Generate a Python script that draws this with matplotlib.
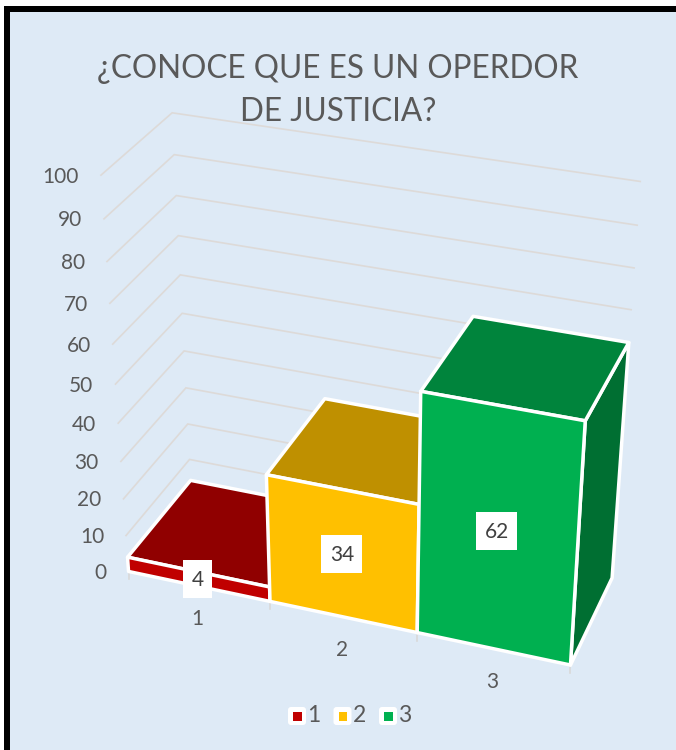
import numpy as np
import matplotlib
matplotlib.use("Agg")
import matplotlib.pyplot as plt
from matplotlib.patches import Polygon, Rectangle, FancyBboxPatch

plt.rcParams["font.family"] = ["Lato", "DejaVu Sans"]

title = "¿CONOCE QUE ES UN OPERDOR\nDE JUSTICIA?"
categories = ["1", "2", "3"]
values = [4, 34, 62]
ticks = [0, 10, 20, 30, 40, 50, 60, 70, 80, 90, 100]

front_colors = ["#C00000", "#FFC000", "#00B050"]
top_colors = ["#900000", "#BF9000", "#00843C"]
side_colors = ["#700000", "#8F6C00", "#006F32"]
text_color = "#595959"
grid_color = "#DDDAD8"
bg_color = "#DEEAF6"

# camera for the 3d look, fitted from reference points: (x edge, value, depth) -> image pixels
cam_world = [(0, 0, 0), (1, 0, 0), (2, 0, 0), (3, 0, 0), (0, 4, 0), (1, 4, 0), (1, 34, 0), (2, 34, 0),
             (2, 62, 0), (3, 62, 0), (3, 62, 1), (2, 62, 1), (3, 0, 1), (1, 34, 1), (0, 4, 1),
             (0, 100, 0), (0, 70, 0), (0, 40, 0), (0, 10, 0),
             (0, 100, 1), (0, 70, 1), (0, 40, 1), (0, 10, 1),
             (3, 100, 1), (3, 90, 1), (3, 80, 1), (3, 70, 1)]
cam_pixels = [(129, 572), (268, 600), (417, 632), (571, 665), (129, 558), (268, 587), (267, 475), (418, 504),
              (422, 392), (586, 421), (627, 343), (473, 317), (613, 578), (326, 398), (191, 481),
              (101, 175), (110, 303), (118, 423), (126, 536),
              (172, 113), (178, 235), (184, 351), (189, 459),
              (640, 181), (637, 225), (634, 268), (632, 310)]


def fit_camera(world, pixels):
    # scale both sides first, otherwise the fit favours the big pixel numbers
    world = np.array(world, dtype=float)
    pixels = np.array(pixels, dtype=float)
    w_scale = np.abs(world).max(axis=0)
    rows = []
    for w, p in zip(world / w_scale, pixels / 500):
        h = list(w) + [1]
        zero = [0] * len(h)
        rows.append(h + zero + [-p[0] * c for c in h])
        rows.append(zero + h + [-p[1] * c for c in h])
    m = np.linalg.svd(np.array(rows))[2][-1].reshape(3, len(h))
    return np.diag([500, 500, 1]) @ m @ np.diag(list(1 / w_scale) + [1])


cam = fit_camera(cam_world, cam_pixels)


def project(x, v, d):
    u = cam @ np.array([x, v, d, 1.0])
    return u[0] / u[2], u[1] / u[2]


fig = plt.figure(figsize=(6.76, 7.5), dpi=100)
ax = fig.add_axes([0, 0, 1, 1])
ax.set_xlim(0, 676)
ax.set_ylim(750, 0)
ax.axis("off")

ax.add_patch(Rectangle((4, 6), 700, 800, facecolor="black", edgecolor="none", zorder=0))
ax.add_patch(Rectangle((10, 12), 700, 800, facecolor=bg_color, edgecolor="none", zorder=0.5))

# wall gridlines and value labels
for v in ticks[1:]:
    p0, p1, p2 = project(0, v, 0), project(0, v, 1), project(3, v, 1)
    ax.plot([p0[0], p1[0], p2[0]], [p0[1], p1[1], p2[1]], color=grid_color, lw=1.2,
            solid_joinstyle="miter", zorder=1)
for v in ticks:
    p0 = project(0, v, 0)
    ax.text(p0[0] - 22, p0[1] + 1.5, str(v), ha="right", va="center", fontsize=15, color=text_color)

# bars, left to right so each one hides the hidden part of the previous
for i, v in enumerate(values):
    fl0, fr0 = project(i, 0, 0), project(i + 1, 0, 0)
    flt, frt = project(i, v, 0), project(i + 1, v, 0)
    blt, brt = project(i, v, 1), project(i + 1, v, 1)
    br0 = project(i + 1, 0, 1)
    faces = [([fr0, br0, brt, frt], side_colors[i]), ([flt, frt, brt, blt], top_colors[i]),
             ([fl0, fr0, frt, flt], front_colors[i])]
    for pts, col in faces:
        ax.add_patch(Polygon(pts, closed=True, facecolor=col, edgecolor="white", lw=2.5,
                             joinstyle="round", zorder=2 + i))

# category ticks on the floor
for i in range(len(categories) + 1):
    x0, y0 = project(i, 0, 0)
    ax.plot([x0, x0], [y0 + 2, y0 + 8], color="#D9D9D9", lw=1.2, zorder=1)

for i, (c, v) in enumerate(zip(categories, values)):
    x0, y0 = project(i + 0.5, 0, 0)
    ax.text(x0 - 1, y0 + 33, c, ha="center", va="center", fontsize=15, color=text_color)
    xc, yc = project(i + 0.5, v / 2, 0)
    w = 29 if v < 10 else 41
    ax.add_patch(Rectangle((xc - 0.5 - w / 2, yc - 19), w, 38, facecolor="white", edgecolor="none", zorder=6))
    ax.text(xc - 0.5, yc + 1, str(v), ha="center", va="center", fontsize=15, color="#404040", zorder=7)

ax.text(338, 90.5, title, ha="center", va="center", fontsize=22.7, color=text_color, linespacing=1.57, zorder=8)

# legend
for i, c in enumerate(categories):
    lx = 297 + 45.5 * i
    ax.add_patch(FancyBboxPatch((lx - 7, 709), 14, 14, boxstyle="round,pad=2,rounding_size=3",
                                facecolor="white", edgecolor="none", zorder=2))
    ax.add_patch(Rectangle((lx - 4, 712), 8.5, 8.5, facecolor=front_colors[i], edgecolor="none", zorder=3))
    ax.text(lx + 17, 716, c, ha="center", va="center", fontsize=16.5, color=text_color)

fig.savefig("out.png", dpi=100)
